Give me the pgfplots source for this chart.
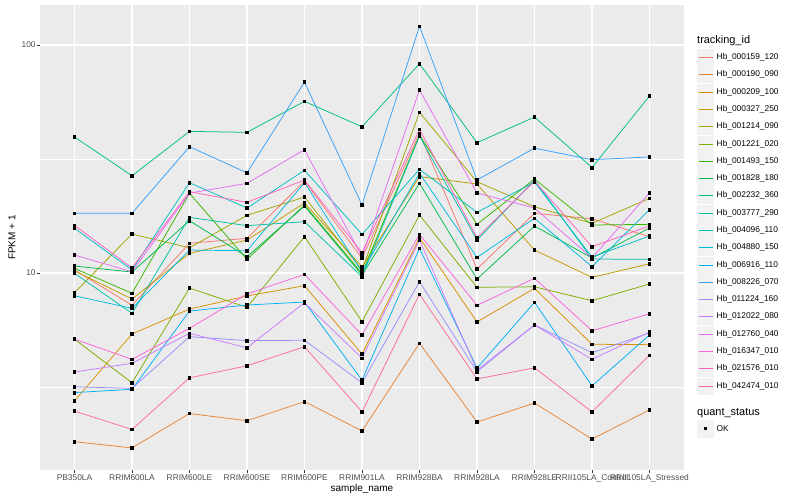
\documentclass[border=0pt]{standalone}
\usepackage{fontspec}
\setmainfont{Liberation Sans}
\usepackage{pgfplots}
\usepackage{pgfplotstable}
\pgfplotsset{compat=1.18}

% ggplot hue palette, 20 levels
\definecolor{c01}{HTML}{F8766D}
\definecolor{c02}{HTML}{EA8331}
\definecolor{c03}{HTML}{D89000}
\definecolor{c04}{HTML}{C09B00}
\definecolor{c05}{HTML}{A3A500}
\definecolor{c06}{HTML}{7CAE00}
\definecolor{c07}{HTML}{39B600}
\definecolor{c08}{HTML}{00BB4E}
\definecolor{c09}{HTML}{00BF7D}
\definecolor{c10}{HTML}{00C1A3}
\definecolor{c11}{HTML}{00BFC4}
\definecolor{c12}{HTML}{00BAE0}
\definecolor{c13}{HTML}{00B0F6}
\definecolor{c14}{HTML}{35A2FF}
\definecolor{c15}{HTML}{9590FF}
\definecolor{c16}{HTML}{C77CFF}
\definecolor{c17}{HTML}{E76BF3}
\definecolor{c18}{HTML}{FA62DB}
\definecolor{c19}{HTML}{FF62BC}
\definecolor{c20}{HTML}{FF6C91}
\definecolor{panel}{HTML}{EBEBEB}
\definecolor{keybg}{HTML}{F2F2F2}
\definecolor{ticktext}{HTML}{4D4D4D}
\definecolor{tickline}{HTML}{333333}

% FPKM + 1, one column per tracking_id, rows = samples 1..11
\pgfplotstableread{
x  s01   s02  s03   s04   s05   s06   s07   s08   s09  s10   s11   s12   s13   s14   s15  s16   s17   s18   s19   s20
1  10.31 1.82 2.75  10.23 8.20  5.13  10.48 10.73 39.5 9.97  15.71 7.95  2.99  18.3  3.17 3.68  11.99 5.13  16.19 2.48
2  7.22  1.71 5.40  7.69  14.83 3.30  8.15  10.10 26.7 6.66  10.31 7.00  3.09  18.3  3.12 4.02  10.13 4.18  10.52 2.06
3  13.50 2.42 6.95  12.20 12.91 8.59  22.37 16.96 41.8 17.55 24.89 12.61 6.81  35.8  5.26 5.44  22.40 5.72  22.73 3.47
4  14.20 2.25 7.93  13.95 17.91 7.07  11.48 11.79 41.4 16.13 19.28 12.52 7.24  27.5  5.05 4.70  24.74 8.09  20.42 3.92
5  25.30 2.73 8.80  20.28 21.54 14.43 19.87 19.67 56.6 16.79 28.21 24.89 7.46  68.8  5.07 7.41  34.74 9.87  25.58 4.75
6  11.60 2.03 4.41  10.66 10.31 6.12  9.97  9.80  43.8 9.63  14.78 10.13 3.39  19.9  3.30 4.23  11.79 5.35  12.27 2.46
7  41.00 4.92 14.28 26.45 50.68 17.96 40.30 24.74 82.8 39.90 28.50 27.37 12.83 120.8 9.16 13.95 63.48 14.78 42.69 8.07
8  10.41 2.22 6.10  24.57 25.14 8.66  16.35 9.41  37.3 13.95 18.46 11.71 3.83  25.6  3.69 3.75  22.43 7.22  14.28 3.43
9  18.27 2.69 8.57  12.61 19.53 8.70  25.84 16.08 48.3 25.58 25.06 17.38 7.44  35.3  5.92 5.92  19.28 9.48  25.30 3.84
10 17.30 1.87 4.87  9.57  16.52 7.56  16.24 11.64 29.0 11.52 11.75 10.66 3.20  31.4  4.47 4.18  11.64 5.58  13.04 2.46
11 14.43 2.51 4.85  10.98 21.26 8.95  16.35 15.75 59.8 11.48 14.53 18.95 5.35  32.3  5.46 5.51  22.50 6.63  16.08 4.36
}\expr

\begin{document}
\begin{tikzpicture}
\begin{axis}[
  at={(40bp,30bp)}, anchor=south west,
  scale only axis, width=644bp, height=465bp,
  set layers, mark layer=axis foreground,
  ymode=log,
  xmin=0.4, xmax=11.6,
  ymin=1.368, ymax=149.8,
  axis background/.style={fill=panel},
  axis line style={draw=none},
  xtick={1,...,11},
  xticklabels={PB350LA,RRIM600LA,RRIM600LE,RRIM600SE,RRIM600PE,RRIM901LA,RRIM928BA,RRIM928LA,RRIM928LE,RRII105LA\_Control,RRII105LA\_Stressed},
  ytick={10,100}, yticklabels={10,100},
  minor ytick={3.1623,31.623},
  grid=both,
  major grid style={white, line width=1.1bp},
  minor grid style={white, line width=0.55bp},
  tick align=outside,
  major tick length=2.7bp, minor tick length=0pt,
  tick style={tickline, line width=0.6bp},
  xtick pos=bottom, ytick pos=left,
  /pgf/number format/assume math mode=true,
  tick label style={font=\fontsize{8.4}{10}\selectfont, text=ticktext},
  xticklabel style={inner sep=1.5bp},
  yticklabel style={inner sep=1.5bp},
  xlabel={sample\_name}, ylabel={FPKM + 1},
  label style={font=\fontsize{11}{13}\selectfont},
  every axis x label/.style={at={(axis description cs:0.5,0)}, anchor=center, yshift=-19bp},
  every axis y label/.style={at={(axis description cs:0,0.5)}, anchor=center, rotate=90, yshift=28bp},
  ser/.style={line width=0.75bp, mark=square*, mark size=1.3bp, mark options={draw=black, fill=black, solid}},
]
\addplot[ser, c01] table[x=x, y=s01] {\expr};
\addplot[ser, c02] table[x=x, y=s02] {\expr};
\addplot[ser, c03] table[x=x, y=s03] {\expr};
\addplot[ser, c04] table[x=x, y=s04] {\expr};
\addplot[ser, c05] table[x=x, y=s05] {\expr};
\addplot[ser, c06] table[x=x, y=s06] {\expr};
\addplot[ser, c07] table[x=x, y=s07] {\expr};
\addplot[ser, c08] table[x=x, y=s08] {\expr};
\addplot[ser, c09] table[x=x, y=s09] {\expr};
\addplot[ser, c10] table[x=x, y=s10] {\expr};
\addplot[ser, c11] table[x=x, y=s11] {\expr};
\addplot[ser, c12] table[x=x, y=s12] {\expr};
\addplot[ser, c13] table[x=x, y=s13] {\expr};
\addplot[ser, c14] table[x=x, y=s14] {\expr};
\addplot[ser, c15] table[x=x, y=s15] {\expr};
\addplot[ser, c16] table[x=x, y=s16] {\expr};
\addplot[ser, c17] table[x=x, y=s17] {\expr};
\addplot[ser, c18] table[x=x, y=s18] {\expr};
\addplot[ser, c19] table[x=x, y=s19] {\expr};
\addplot[ser, c20] table[x=x, y=s20] {\expr};
\end{axis}

% legend: tracking_id
\node[anchor=west, inner sep=0pt, font=\fontsize{11}{13}\selectfont] at (697bp, 459.3bp) {tracking\_id};
\foreach \c/\n [count=\i from 0] in {c01/Hb\_000159\_120, c02/Hb\_000190\_090, c03/Hb\_000209\_100, c04/Hb\_000327\_250, c05/Hb\_001214\_090, c06/Hb\_001221\_020, c07/Hb\_001493\_150, c08/Hb\_001828\_180, c09/Hb\_002232\_360, c10/Hb\_003777\_290, c11/Hb\_004096\_110, c12/Hb\_004880\_150, c13/Hb\_006916\_110, c14/Hb\_008226\_070, c15/Hb\_011224\_160, c16/Hb\_012022\_080, c17/Hb\_012760\_040, c18/Hb\_016347\_010, c19/Hb\_021576\_010, c20/Hb\_042474\_010}{
  \pgfmathsetmacro\ky{floor(442.3-17.28*\i)+0.5}
  \fill[keybg] (697bp, {(\ky-8.64)*1bp}) rectangle (714.3bp, {(\ky+8.64)*1bp});
  \draw[\c, line width=1bp] (698.5bp, \ky bp) -- (712.8bp, \ky bp);
  \node[anchor=west, inner sep=0pt, font=\fontsize{8.4}{10}\selectfont] at (716.5bp, \ky bp) {\n};
}
% legend: quant_status
\node[anchor=west, inner sep=0pt, font=\fontsize{11}{13}\selectfont] at (697bp, 87.3bp) {quant\_status};
\fill[keybg] (697bp, 62.36bp) rectangle (714.3bp, 79.64bp);
\fill[black] (704bp, 70bp) rectangle (707bp, 73bp);
\node[anchor=west, inner sep=0pt, font=\fontsize{8.4}{10}\selectfont] at (716.5bp, 71bp) {OK};
\pgfresetboundingbox
\useasboundingbox (0,0) rectangle (800bp,500bp);
\end{tikzpicture}
\end{document}
